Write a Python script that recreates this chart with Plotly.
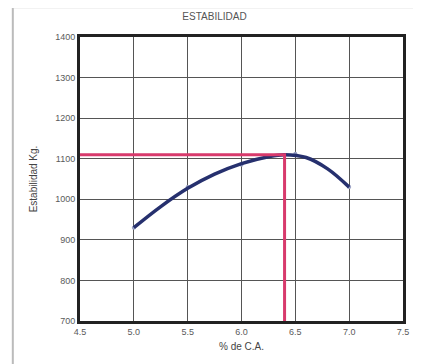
import plotly.graph_objects as go

# fitted stability curve
curve_x = [5.0, 5.25, 5.5, 5.75, 6.0, 6.25, 6.4, 6.6, 6.8, 7.0]
curve_y = [930, 982, 1027, 1062, 1088, 1105, 1110, 1103, 1075, 1030]

# lab points
pts_x = [5.0, 5.5, 6.0, 6.5, 7.0]
pts_y = [930, 1030, 1085, 1112, 1030]

# optimum
opt_x = 6.4
opt_y = 1110

fig = go.Figure()

fig.add_trace(go.Scatter(
    x=pts_x, y=pts_y, mode='markers',
    marker=dict(color='#9aa2c4', size=4),
    hoverinfo='skip',
))

fig.add_trace(go.Scatter(
    x=curve_x, y=curve_y, mode='lines',
    line=dict(color='#26306e', width=3.5, shape='spline'),
))

fig.add_trace(go.Scatter(
    x=[4.5, opt_x, opt_x], y=[opt_y, opt_y, 700], mode='lines',
    line=dict(color='#d83a6c', width=3),
))

axis_common = dict(
    showgrid=True, gridcolor='#555555', gridwidth=1,
    showline=True, linecolor='#222222', linewidth=3, mirror=True,
    ticks='', zeroline=False,
    tickfont=dict(family='Liberation Sans', size=9, color='#5a5a5a'),
)

fig.update_xaxes(
    range=[4.5, 7.5], dtick=0.5, tickformat='.1f',
    title=dict(text='% de C.A.', font=dict(family='Liberation Sans', size=10, color='#444444'), standoff=8),
    **axis_common,
)
fig.update_yaxes(
    range=[700, 1400], dtick=100,
    title=dict(text='Estabilidad Kg.', font=dict(family='Liberation Sans', size=10, color='#444444'), standoff=16),
    **axis_common,
)

# light outer frame (left and top edges only)
fig.add_shape(type='line', xref='paper', yref='paper',
              x0=-0.208, x1=-0.208, y0=-0.4, y1=1.105,
              line=dict(color='#bbbbbb', width=2), layer='below')
fig.add_shape(type='line', xref='paper', yref='paper',
              x0=-0.208, x1=1.3, y0=1.105, y1=1.105,
              line=dict(color='#cccccc', width=2), layer='below')

# page body keeps an 8px margin, so the figure is 8px smaller
fig.update_layout(
    width=413, height=356,
    margin=dict(l=72, r=14, t=29, b=41),
    plot_bgcolor='white', paper_bgcolor='white',
    showlegend=False,
    title=dict(text='ESTABILIDAD', x=0.5, xanchor='center', y=0.975, yanchor='middle',
               font=dict(family='Liberation Sans', size=10, color='#555555')),
)

fig.write_html("out.html")
